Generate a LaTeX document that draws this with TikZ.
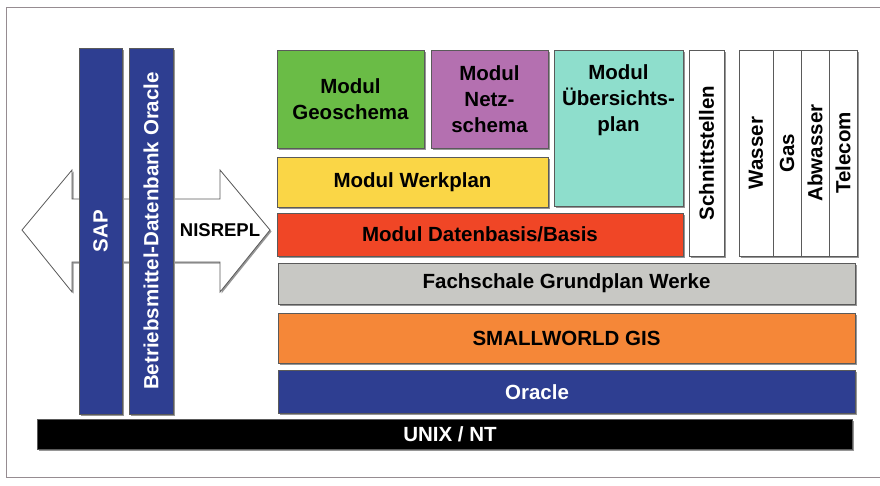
\documentclass[tikz,border=0pt]{standalone}
\usepackage{fontspec}
\setmainfont{Liberation Sans}
\usetikzlibrary{shadows,fit}
\definecolor{cgreen}{RGB}{106,188,70}
\definecolor{cpurple}{RGB}{180,112,176}
\definecolor{cteal}{RGB}{142,222,204}
\definecolor{cyellow}{RGB}{250,214,70}
\definecolor{cred}{RGB}{240,70,38}
\definecolor{cgray}{RGB}{200,200,196}
\definecolor{corange}{RGB}{245,135,56}
\definecolor{cblue}{RGB}{46,62,145}
\definecolor{cline}{RGB}{90,90,90}
\definecolor{cshadow}{RGB}{150,150,150}
\definecolor{cframe}{RGB}{150,140,145}
\tikzset{
  box/.style={draw=cline, line width=0.7pt, inner sep=0pt, outer sep=0pt,
    drop shadow={shadow xshift=2pt, shadow yshift=-2pt, fill=cshadow, opacity=1}},
  lbl/.style={font=\fontsize{20.5}{26}\selectfont\bfseries, align=center, inner sep=0pt, text=black},
  wlbl/.style={lbl, text=white},
}
\begin{document}
\begin{tikzpicture}[x=1pt,y=-1pt]
\useasboundingbox (0,0) rectangle (880,485);
% frame
\draw[cframe, line width=0.8pt] (880,7) -- (6,7) -- (6,477) -- (880,477);
% double arrow
\coordinate (tl) at (22,230);
\coordinate (tr) at (270,230);
\draw[draw=cline, line width=0.8pt, fill=white,
  drop shadow={shadow xshift=1.5pt, shadow yshift=-1.5pt, fill=cshadow, opacity=1}]
  (tl) -- (72,170) -- (72,199) -- (220,199) -- (220,170) -- (tr)
  -- (220,292) -- (220,262) -- (72,262) -- (72,292) -- cycle;
\node[lbl, font=\fontsize{18.5}{22}\selectfont\bfseries] (nis) at (220,230) {NISREPL};
% vertical bars
\node[box, fill=cblue, fit={(79,48)(122,414)}] (sap) {};
\node[wlbl, rotate=90] (sapT) at (sap.center) {SAP};
\node[box, fill=cblue, fit={(129,48)(173,414)}] (bdo) {};
\node[wlbl, rotate=90] (bdoT) at (bdo.center) {Betriebsmittel-Datenbank Oracle};
% modules
\node[box, fill=cgreen, fit={(277,50)(424,148)}] (geo) {};
\node[lbl] (geoT) at (geo.center) {Modul\\Geoschema};
\node[box, fill=cpurple, fit={(431,50)(548,148)}] (netz) {};
\node[lbl] (netzT) at (netz.center) {Modul\\Netz-\\schema};
\node[box, fill=cteal, fit={(554,50)(683,206)}] (ueb) {};
\node[lbl] (uebT) at (618.5,100) {Modul\\Übersichts-\\plan};
\node[box, fill=cyellow, fit={(277,157)(548,207)}] (werk) {};
\node[lbl] (werkT) at (werk.center) {Modul Werkplan};
\node[box, fill=cred, fit={(277,213)(683,256)}] (daten) {};
\node[lbl] (datenT) at (daten.center) {Modul Datenbasis/Basis};
% interface columns
\node[box, fill=white, fit={(689,50)(724,256)}] (schn) {};
\node[lbl, rotate=90] (schnT) at (schn.center) {Schnittstellen};
\node[box, fill=white, fit={(739,50)(773,256)}] (wass) {};
\node[lbl, rotate=90] (wassT) at (wass.center) {Wasser};
\node[box, fill=white, fit={(773,50)(801,256)}] (gas) {};
\node[lbl, rotate=90] (gasT) at (gas.center) {Gas};
\node[box, fill=white, fit={(801,50)(829,256)}] (abw) {};
\node[lbl, rotate=90] (abwT) at (abw.center) {Abwasser};
\node[box, fill=white, fit={(829,50)(857,256)}] (tel) {};
\node[lbl, rotate=90] (telT) at (tel.center) {Telecom};
% layers
\node[box, fill=cgray, fit={(278,263)(855,304)}] (fach) {};
\node[lbl] (fachT) at (fach.center) {Fachschale Grundplan Werke};
\node[box, fill=corange, fit={(278,313)(855,363)}] (sw) {};
\node[lbl] (swT) at (sw.center) {SMALLWORLD GIS};
\node[box, fill=cblue, fit={(278,370)(855,413)}] (ora) {};
\node[wlbl] (oraT) at (537,392) {Oracle};
\node[box, fill=black, fit={(37,419)(852,449)}] (unix) {};
\node[wlbl] (unixT) at (450,434) {UNIX / NT};
\end{tikzpicture}
\end{document}
